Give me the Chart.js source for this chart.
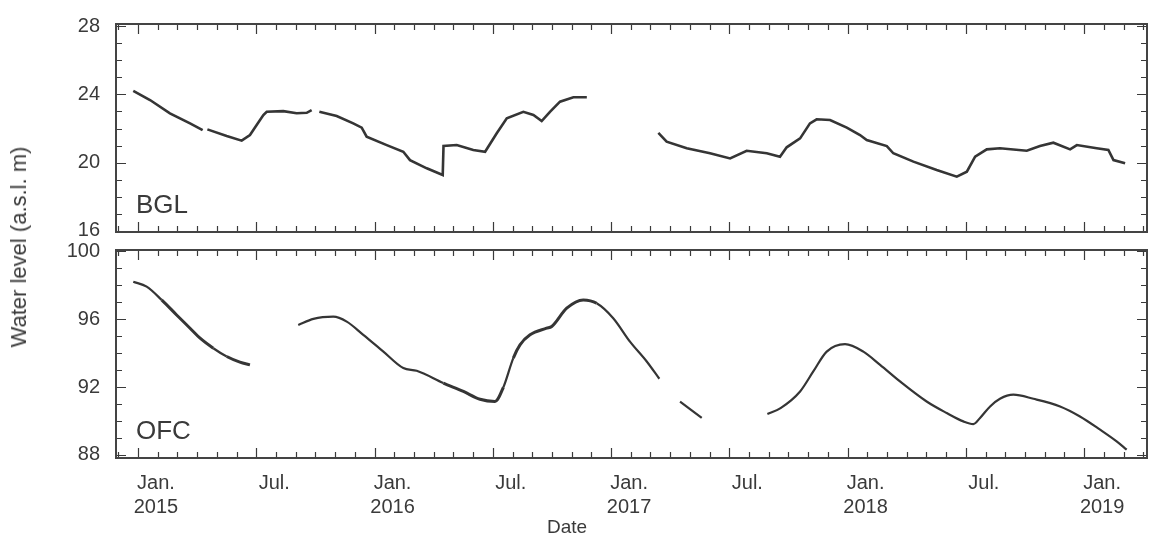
<!DOCTYPE html>
<html lang="en">
<head>
<meta charset="utf-8">
<title>Water level - BGL and OFC</title>
<style>
  body { margin: 0; background: #fff; }
  #wrap { position: relative; width: 1149px; height: 537px; font-family: "Liberation Sans", Arial, sans-serif; color: #3a3a3a; }
  .panel { position: absolute; left: 0; width: 1149px; }
  #topPanel { top: 0; height: 237px; }
  #bottomPanel { top: 237px; height: 300px; }
  #ytitle { position: absolute; left: 19px; top: 247px; transform: translate(-50%, -50%) rotate(-90deg); font-size: 22px; white-space: nowrap; }
  #xtitle { position: absolute; left: 567px; top: 527px; transform: translate(-50%, -50%); font-size: 19px; }
</style>
</head>
<body>
<div id="wrap">
  <div class="panel" id="topPanel"><canvas id="bglChart"></canvas></div>
  <div class="panel" id="bottomPanel"><canvas id="ofcChart"></canvas></div>
  <div id="ytitle">Water level (a.s.l. m)</div>
  <div id="xtitle">Date</div>
</div>
<script src="https://cdn.jsdelivr.net/npm/chart.js"></script>
<script>
// x values are months counted from Jan. 2015 (0 = Jan. 2015, 12 = Jan. 2016 ...)
// null level = gap in the record
var bglMonth = [-0.24, 0.61, 1.62, 2.64, 3.28, 3.4,
  3.52, 4.50, 5.26, 5.68, 6.02, 6.36, 6.53, 7.37, 8.05, 8.56, 8.81, 9.0,
  9.20, 10.08, 10.92, 11.35, 11.60, 12.62, 13.46, 13.80, 14.65, 15.46, 15.50, 16.17, 17.01, 17.61,
  18.20, 18.71, 19.55, 20.06, 20.48, 20.90, 21.41, 22.09, 22.77, 24.0,
  26.40, 26.82, 27.84, 29.02, 30.04, 30.88, 31.90, 32.57, 32.91, 33.59, 34.09, 34.43, 35.11,
  35.96, 36.63, 36.97, 37.99, 38.32, 39.34, 40.52, 41.54, 42.05, 42.47, 43.06, 43.73, 45.09,
  45.76, 46.44, 47.29, 47.63, 48.64, 49.23, 49.49, 50.08];
var bglLevel = [24.21, 23.67, 22.89, 22.30, 21.91, null,
  21.95, 21.56, 21.29, 21.62, 22.20, 22.79, 22.98, 23.02, 22.89, 22.92, 23.08, null,
  22.98, 22.73, 22.30, 22.05, 21.52, 21.03, 20.64, 20.15, 19.67, 19.28, 20.98, 21.03, 20.74, 20.64,
  21.72, 22.60, 22.98, 22.79, 22.44, 22.98, 23.57, 23.83, 23.83, null,
  21.75, 21.23, 20.84, 20.55, 20.25, 20.70, 20.55, 20.35, 20.90, 21.42, 22.30, 22.54, 22.50,
  22.05, 21.62, 21.33, 20.97, 20.55, 20.06, 19.57, 19.18, 19.47, 20.35, 20.78, 20.84, 20.70,
  20.97, 21.17, 20.78, 21.03, 20.84, 20.74, 20.15, 19.96];

var ofcMonth = [-0.24, 0.44, 1.20, 1.96, 2.64, 3.15, 3.82, 4.50, 5.17, 5.68, 7.0,
  8.13, 8.90, 9.91, 10.59, 11.43, 12.45, 13.46, 14.14, 15.49, 16.51, 17.35, 18.11, 18.54,
  19.04, 19.38, 19.89, 20.73, 20.99, 21.75, 22.59, 23.27, 24.11, 24.96, 25.81, 26.45, 27.0,
  27.50, 28.60, 30.0,
  31.93, 32.60, 33.59, 34.26, 34.94, 35.87, 36.80, 37.65, 38.66, 40.01, 41.03, 41.87, 42.38,
  42.72, 43.23, 43.73, 44.41, 45.43, 46.78, 47.79, 48.81, 49.65, 50.16];
var ofcLevel = [98.21, 97.92, 97.14, 96.25, 95.47, 94.88, 94.29, 93.80, 93.47, 93.31, null,
  95.66, 96.02, 96.15, 95.86, 95.08, 94.09, 93.12, 92.96, 92.24, 91.74, 91.28, 91.15, 92.00,
  93.71, 94.49, 95.08, 95.47, 95.57, 96.65, 97.14, 96.94, 96.06, 94.68, 93.51, 92.49, null,
  91.15, 90.18, null,
  90.41, 90.76, 91.74, 92.92, 94.09, 94.53, 94.09, 93.31, 92.33, 91.15, 90.47, 89.98, 89.82,
  90.18, 90.86, 91.31, 91.55, 91.31, 90.86, 90.27, 89.49, 88.80, 88.31];

var years = ['2015', '2016', '2017', '2018', '2019'];
var halfYearNames = ['Jan.', 'Jul.'];
var bglLabelTicks = [16, 20, 24, 28];
var ofcLabelTicks = [88, 92, 96, 100];

var firstMonth = -1, lastMonth = 51;   // Dec. 2014 .. Apr. 2019 tick marks
var inkColor = '#353535';
var tickFont = { family: '"Liberation Sans", Arial, sans-serif', size: 20 };

function toPoints(xs, ys) {
  return xs.map(function (m, i) { return { x: m, y: ys[i] }; });
}

function monthTickList(scale) {
  var list = [];
  for (var m = firstMonth; m <= lastMonth; m++) list.push({ value: m });
  scale.ticks = list;
}

function levelTickList(labels) {
  return function (scale) {
    var list = [];
    for (var v = labels[0]; v <= labels[labels.length - 1]; v++) list.push({ value: v });
    scale.ticks = list;
  };
}

function monthLabel(v) {
  if (v >= 0 && v % 12 === 0) return [halfYearNames[0], years[v / 12]];
  if (v >= 0 && v % 12 === 6) return halfYearNames[1];
  return '';
}

// labels must not push the plot area in, it is placed by layout padding
function noLabelPadding(s) {
  s.paddingTop = 0; s.paddingBottom = 0; s.paddingLeft = 0; s.paddingRight = 0;
}

// frame, inward tick marks and panel name
var framePlugin = {
  id: 'frame',
  afterDraw: function (chart, args, opts) {
    var ctx = chart.ctx, a = chart.chartArea, x = chart.scales.x, y = chart.scales.y;
    ctx.save();
    ctx.strokeStyle = '#3a3a3a';
    ctx.lineWidth = 1.2;
    ctx.beginPath();
    x.ticks.forEach(function (t) {
      var px = Math.round(x.getPixelForValue(t.value)) + 0.5;
      var len = t.value % 6 === 0 ? 10 : 6;
      ctx.moveTo(px, a.top); ctx.lineTo(px, a.top + len);
      ctx.moveTo(px, a.bottom); ctx.lineTo(px, a.bottom - len);
    });
    y.ticks.forEach(function (t) {
      var py = Math.round(y.getPixelForValue(t.value)) + 0.5;
      var len = opts.labels.indexOf(t.value) >= 0 ? 10 : 6;
      ctx.moveTo(a.left, py); ctx.lineTo(a.left + len, py);
      ctx.moveTo(a.right, py); ctx.lineTo(a.right - len, py);
    });
    ctx.stroke();
    ctx.strokeStyle = '#444';
    ctx.lineWidth = 2;
    ctx.strokeRect(a.left, a.top, a.right - a.left, a.bottom - a.top);
    ctx.fillStyle = '#3a3a3a';
    ctx.font = '26px "Liberation Sans", Arial, sans-serif';
    ctx.textBaseline = 'alphabetic';
    ctx.fillText(opts.name, a.left + 20, a.bottom - 19);
    ctx.restore();
  }
};

function makeChart(id, points, cfg) {
  return new Chart(id, {
    type: 'line',
    data: {
      datasets: [{
        data: points,
        borderColor: inkColor,
        borderWidth: cfg.width,
        pointRadius: 0,
        spanGaps: false,
        cubicInterpolationMode: cfg.smooth ? 'monotone' : 'default',
        tension: 0,
        segment: cfg.segment
      }]
    },
    options: {
      responsive: true,
      maintainAspectRatio: false,
      animation: false,
      layout: { padding: cfg.padding },
      plugins: {
        legend: { display: false },
        tooltip: { enabled: false },
        frame: { name: cfg.name, labels: cfg.labels }
      },
      scales: {
        x: {
          type: 'linear',
          min: -1.116,
          max: 51.19,
          afterBuildTicks: monthTickList,
          afterFit: function (s) { s.height = cfg.xHeight; noLabelPadding(s); },
          grid: { display: false, drawTicks: false },
          border: { display: false },
          ticks: {
            display: cfg.xLabels,
            autoSkip: false,
            maxRotation: 0,
            minRotation: 0,
            padding: 13,
            labelOffset: 18,
            color: '#3a3a3a',
            font: tickFont,
            callback: monthLabel
          }
        },
        y: {
          min: cfg.yMin,
          max: cfg.yMax,
          afterBuildTicks: levelTickList(cfg.labels),
          afterFit: function (s) { s.width = 116; noLabelPadding(s); },
          grid: { display: false, drawTicks: false },
          border: { display: false },
          ticks: {
            autoSkip: false,
            padding: 16,
            color: '#3a3a3a',
            font: tickFont,
            callback: function (v) { return cfg.labels.indexOf(v) >= 0 ? String(v) : ''; }
          }
        }
      }
    },
    plugins: [framePlugin]
  });
}

makeChart('bglChart', toPoints(bglMonth, bglLevel), {
  name: 'BGL', labels: bglLabelTicks, yMin: 15.94, yMax: 28.12,
  width: 2.6, smooth: false, xLabels: false, xHeight: 0,
  padding: { left: 0, right: 2, top: 24, bottom: 5 }
});

// the early 2015 and mid 2016 OFC record is noisier, drawn a little heavier
makeChart('ofcChart', toPoints(ofcMonth, ofcLevel), {
  name: 'OFC', labels: ofcLabelTicks, yMin: 87.82, yMax: 100.08,
  width: 2.2, smooth: true, xLabels: true, xHeight: 79,
  padding: { left: 0, right: 2, top: 13, bottom: 0 },
  segment: {
    borderWidth: function (c) {
      var m = c.p0.parsed.x;
      return ((m > 0.8 && m < 3.4) || (m > 4.3 && m < 6) || (m > 15.3 && m < 18.4) || (m > 18.8 && m < 22.8)) ? 3 : 2.2;
    }
  }
});
</script>
</body>
</html>
